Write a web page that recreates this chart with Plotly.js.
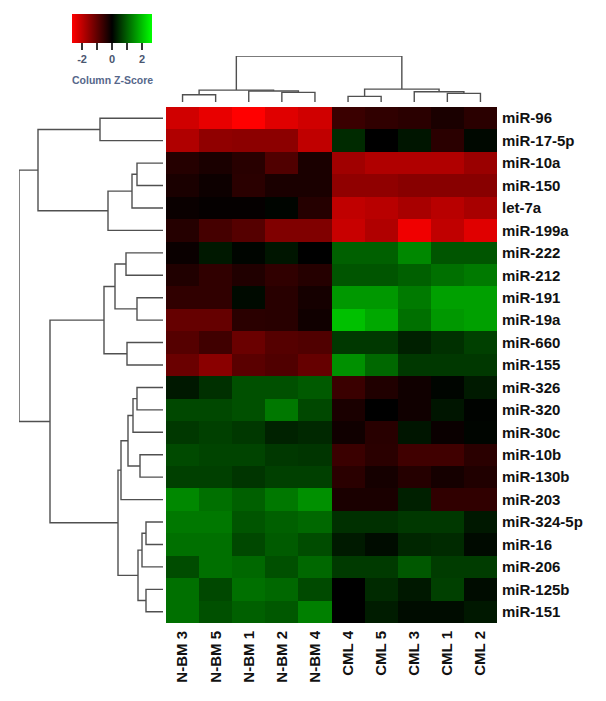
<!DOCTYPE html>
<html>
<head>
<meta charset="utf-8">
<script src="https://cdn.plot.ly/plotly-3.0.1.min.js"></script>
<style>
  html, body { margin: 0; padding: 0; background: #fff; }
  #chart { width: 606px; height: 701px; }
</style>
</head>
<body>
<div id="chart"></div>
<script>
const samples = ['N-BM 3', 'N-BM 5', 'N-BM 1', 'N-BM 2', 'N-BM 4', 'CML 4', 'CML 5', 'CML 3', 'CML 1', 'CML 2'];

const mirnas = ['miR-96', 'miR-17-5p', 'miR-10a', 'miR-150', 'let-7a', 'miR-199a', 'miR-222', 'miR-212',
    'miR-191', 'miR-19a', 'miR-660', 'miR-155', 'miR-326', 'miR-320', 'miR-30c', 'miR-10b', 'miR-130b',
    'miR-203', 'miR-324-5p', 'miR-16', 'miR-206', 'miR-125b', 'miR-151'];

// column z-scores, one array per sample, in row order above
const nbm3 = [-2.18, -1.84, -0.39, -0.27, -0.10, -0.39, -0.10, -0.34, -0.50, -1.06, -0.89, -1.11,
    0.25, 0.75, 0.59, 0.77, 0.67, 1.42, 1.26, 1.17, 0.80, 1.17, 1.17];
const nbm5 = [-2.43, -1.51, -0.27, -0.14, -0.05, -0.72, 0.25, -0.50, -0.50, -1.06, -0.67, -1.45,
    0.50, 0.75, 0.67, 0.71, 0.67, 1.17, 1.26, 1.17, 1.17, 0.75, 0.84];
const nbm1 = [-2.67, -1.47, -0.42, -0.44, -0.05, -0.89, 0.05, -0.34, 0.10, -0.44, -1.11, -0.94,
    0.84, 0.84, 0.59, 0.71, 0.55, 1.01, 0.89, 0.75, 1.09, 1.17, 1.01];
const nbm2 = [-2.35, -1.47, -0.84, -0.27, 0.05, -1.34, 0.22, -0.50, -0.42, -0.42, -0.89, -0.84,
    0.84, 1.26, 0.36, 0.59, 0.67, 1.26, 1.01, 0.95, 0.84, 1.09, 0.92];
const nbm4 = [-2.18, -2.01, -0.27, -0.27, -0.39, -1.34, 0.00, -0.39, -0.22, -0.17, -0.84, -1.06,
    0.94, 0.75, 0.42, 0.55, 0.67, 1.51, 1.09, 0.80, 1.09, 0.77, 1.34];
const cml4 = [-0.61, 0.44, -1.68, -1.51, -2.01, -2.09, 1.01, 0.89, 1.59, 2.01, 0.59, 1.51,
    -0.61, -0.27, -0.17, -0.61, -0.44, -0.27, 0.50, 0.27, 0.61, 0.00, 0.00];
const cml5 = [-0.50, 0.00, -1.84, -1.51, -1.93, -1.84, 1.01, 0.89, 1.59, 1.76, 0.59, 1.09,
    -0.34, 0.00, -0.42, -0.44, -0.22, -0.27, 0.50, 0.13, 0.61, 0.44, 0.29];
const cml3 = [-0.44, 0.22, -1.84, -1.42, -1.76, -2.51, 1.42, 1.01, 1.28, 1.17, 0.34, 0.59,
    -0.17, -0.17, 0.22, -0.67, -0.39, 0.34, 0.59, 0.40, 0.92, 0.25, 0.13];
const cml1 = [-0.27, -0.44, -1.84, -1.42, -1.93, -2.01, 0.89, 1.17, 1.68, 1.59, 0.50, 0.59,
    0.05, 0.22, -0.10, -0.67, -0.22, -0.50, 0.59, 0.44, 0.63, 0.67, 0.13];
const cml2 = [-0.44, 0.08, -1.61, -1.42, -1.76, -2.35, 0.89, 1.28, 1.68, 1.68, 0.67, 0.59,
    0.27, 0.03, 0.05, -0.44, -0.34, -0.50, 0.25, 0.10, 0.63, 0.13, 0.25];

// hclust-style merges: negative = leaf (display position, 1-based), positive = earlier merge
const rowMerges = [
    [-1, -2, 63], [-3, -4, 26], [2, -5, 31], [3, -6, 55], [1, 4, 125],
    [-7, -8, 37], [-9, -10, 26], [6, 7, 48], [-11, -12, 36], [8, 9, 59],
    [-13, -14, 26], [11, -15, 30], [-16, -17, 23], [12, 13, 35], [14, -18, 42],
    [-19, -20, 17], [16, -21, 21], [-22, -23, 17], [17, 18, 25], [15, 19, 45],
    [10, 20, 113], [5, 21, 144]
];
const colMerges = [
    [-1, -2, 7.3], [-4, -5, 9.7], [-3, 2, 11], [1, 3, 12],
    [-6, -7, 5.7], [-9, -10, 8.7], [-8, 6, 10.3], [5, 7, 13], [4, 8, 46.3]
];

const columns = [nbm3, nbm5, nbm1, nbm2, nbm4, cml4, cml5, cml3, cml1, cml2];
const z = mirnas.map((_, r) => columns.map(col => col[r]));

// turn merges into U-shaped segments (pos along leaves, height)
const dendroSegs = (merges) => {
    const pos = [], hgt = [], segs = [];
    const nodePos = (id) => id < 0 ? -id - 1 : pos[id - 1];
    const nodeH = (id) => id < 0 ? 0 : hgt[id - 1];
    merges.forEach(([a, b, h]) => {
        const pa = nodePos(a), pb = nodePos(b);
        segs.push([[pa, nodeH(a)], [pa, h], [pb, h], [pb, nodeH(b)]]);
        pos.push((pa + pb) / 2);
        hgt.push(h);
    });
    return segs;
};

const lineStyle = { color: '#505050', width: 1.4 };

let rowX = [], rowY = [];
dendroSegs(rowMerges).forEach(s => {
    s.forEach(([p, h]) => { rowX.push(h); rowY.push(p); });
    rowX.push(null); rowY.push(null);
});
let colX = [], colY = [];
dendroSegs(colMerges).forEach(s => {
    s.forEach(([p, h]) => { colX.push(p); colY.push(h); });
    colX.push(null); colY.push(null);
});

const W = 606, H = 701;
const px = (a, b) => [a / W, b / W];
const py = (top, bottom) => [1 - bottom / H, 1 - top / H];

const heat = {
    type: 'heatmap',
    x: samples.map((_, i) => i),
    y: mirnas.map((_, i) => i),
    z: z,
    zmin: -2.67,
    zmax: 2.67,
    colorscale: [[0, '#ff0000'], [0.5, '#000000'], [1, '#00ff00']],
    xaxis: 'x',
    yaxis: 'y',
    hoverinfo: 'skip',
    colorbar: {
        orientation: 'h',
        xref: 'container', yref: 'container',
        x: 112 / W, xanchor: 'center',
        y: 1 - 14 / H, yanchor: 'top',
        len: 80, lenmode: 'pixels',
        thickness: 29, thicknessmode: 'pixels',
        xpad: 0, ypad: 0,
        outlinewidth: 0,
        ticks: 'outside', ticklen: 7, tickwidth: 1.2, tickcolor: '#333',
        tickvals: [-2, -1, 0, 1, 2],
        ticktext: ['-2', '', '0', '', '2'],
        tickfont: { family: 'Liberation Sans, Arial', size: 11, color: '#4a5670', weight: 'bold' },
    },
};

const rowDendro = {
    type: 'scatter', mode: 'lines',
    x: rowX, y: rowY,
    xaxis: 'x2', yaxis: 'y',
    line: lineStyle, hoverinfo: 'skip', showlegend: false,
};
const colDendro = {
    type: 'scatter', mode: 'lines',
    x: colX, y: colY,
    xaxis: 'x', yaxis: 'y3',
    line: lineStyle, hoverinfo: 'skip', showlegend: false,
};

const labelFont = { family: 'Liberation Sans, Arial', size: 15, color: '#111', weight: 'bold' };

const layout = {
    width: W, height: H,
    margin: { l: 0, r: 0, t: 0, b: 0, autoexpand: false },
    paper_bgcolor: '#fff', plot_bgcolor: 'rgba(0,0,0,0)',
    showlegend: false,
    xaxis: {
        domain: px(166, 497),
        range: [-0.5, samples.length - 0.5],
        tickvals: samples.map((_, i) => i),
        ticktext: samples,
        tickangle: -90,
        tickfont: labelFont,
        ticks: '', ticklabelstandoff: 4,
        showgrid: false, zeroline: false, showline: false,
        anchor: 'y',
    },
    yaxis: {
        domain: py(107, 623),
        range: [mirnas.length - 0.5, -0.5],
        tickvals: mirnas.map((_, i) => i),
        ticktext: mirnas,
        side: 'right',
        tickfont: labelFont,
        ticks: '', ticklabelstandoff: 4,
        showgrid: false, zeroline: false, showline: false,
        anchor: 'x',
    },
    xaxis2: {
        domain: px(19, 163),
        range: [144, 0],
        visible: false,
        anchor: 'y',
    },
    yaxis3: {
        domain: py(56, 102),
        range: [0, 46.3],
        visible: false,
        anchor: 'x',
    },
    annotations: [{
        text: 'Column Z-Score',
        xref: 'paper', yref: 'paper',
        x: 112 / W, y: 1 - 80 / H,
        xanchor: 'center', yanchor: 'middle',
        showarrow: false,
        font: { family: 'Liberation Sans, Arial', size: 10.5, color: '#56678a', weight: 'bold' },
    }],
};

Plotly.newPlot('chart', [heat, rowDendro, colDendro], layout, { displayModeBar: false, staticPlot: true });
</script>
</body>
</html>
